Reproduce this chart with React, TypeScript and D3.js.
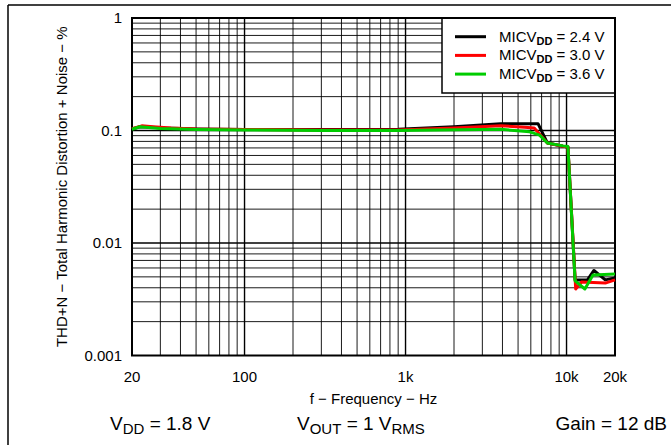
import React from "react";
import * as d3 from "d3";

const xTickValues = [20, 100, 1000, 10000, 20000];
const xTickLabels = ["20", "100", "1k", "10k", "20k"];
const yTickValues = [0.001, 0.01, 0.1, 1];
const yTickLabels = ["0.001", "0.01", "0.1", "1"];

const seriesNames = ["2.4 V", "3.0 V", "3.6 V"];
const seriesColors = ["#000000", "#ff0000", "#00cc00"];

const black24: [number, number][] = [
  [20, 0.103], [22.5, 0.108], [26, 0.107], [32, 0.105], [50, 0.103], [100, 0.102],
  [300, 0.102], [900, 0.1025], [2000, 0.108], [3900, 0.115], [5500, 0.115],
  [6650, 0.115], [7600, 0.0775], [9500, 0.0725], [10200, 0.0715],
  [11300, 0.0047], [13500, 0.0047], [14800, 0.0057], [17400, 0.0047], [20000, 0.0049],
];
const red30: [number, number][] = [
  [20, 0.104], [23, 0.11], [27, 0.108], [35, 0.105], [50, 0.103], [100, 0.102],
  [300, 0.101], [900, 0.101], [2000, 0.105], [3900, 0.11], [5500, 0.107],
  [6300, 0.105], [7600, 0.0775], [9500, 0.0725], [10200, 0.0715], [11400, 0.0039],
  [12400, 0.0045], [17400, 0.0044], [20000, 0.0047],
];
const green36: [number, number][] = [
  [20, 0.1025], [22.4, 0.108], [30, 0.104], [50, 0.102], [100, 0.101],
  [300, 0.1], [900, 0.1], [3900, 0.1025], [5900, 0.0973], [6800, 0.091],
  [7600, 0.0775], [9500, 0.073], [10200, 0.072], [11300, 0.0046], [13000, 0.0039],
  [14600, 0.0052], [20000, 0.0053],
];
const seriesData = [black24, red30, green36];

const left = 132, right = 615, top = 18, bottom = 355.5;
const font = "'Liberation Sans', Arial, sans-serif";

export default function App() {
  const x = d3.scaleLog().domain([20, 20000]).range([left, right]);
  const y = d3.scaleLog().domain([0.001, 1]).range([bottom, top]);
  const line = d3.line<[number, number]>().x((d) => x(d[0])).y((d) => y(d[1]));

  const vGrid: number[] = [];
  for (let d = 10; d <= 10000; d *= 10) {
    for (let m = 1; m <= 9; m++) {
      const v = d * m;
      if (v > 20 && v < 20000) vGrid.push(v);
    }
  }
  const hGrid: number[] = [];
  for (let d = 0.001; d < 1; d *= 10) {
    for (let m = 1; m <= 9; m++) {
      const v = d * m;
      if (v > 0.0011 && v < 0.999) hGrid.push(v);
    }
  }
  const isMajor = (v: number) => Math.abs(Math.log10(v) - Math.round(Math.log10(v))) < 1e-6;

  return (
    <svg width={671} height={445} style={{ position: "absolute", left: 0, top: 0, background: "#fff" }} fontFamily={font}>
      <rect x={0} y={0} width={671} height={445} fill="#fff" />
      {/* outer frame */}
      <line x1={8} y1={5} x2={671} y2={5} stroke="#000" strokeWidth={1.5} />
      <line x1={8} y1={5} x2={8} y2={445} stroke="#000" strokeWidth={1.5} />

      {/* grid */}
      {vGrid.map((v, i) => (
        <line key={"v" + i} x1={x(v)} x2={x(v)} y1={top} y2={bottom} stroke="#000" strokeWidth={isMajor(v) ? 1.4 : 0.9} />
      ))}
      {hGrid.map((v, i) => (
        <line key={"h" + i} x1={left} x2={right} y1={y(v)} y2={y(v)} stroke="#000" strokeWidth={isMajor(v) ? 1.4 : 0.9} />
      ))}

      {/* legend box */}
      <rect x={442} y={top} width={right - 442} height={75} fill="#fff" stroke="#000" strokeWidth={1.5} />

      {/* plot border */}
      <rect x={left} y={top} width={right - left} height={bottom - top} fill="none" stroke="#000" strokeWidth={2} />

      {/* series */}
      {seriesData.map((s, i) => (
        <path key={i} d={line(s) || ""} fill="none" stroke={seriesColors[i]} strokeWidth={3} strokeLinejoin="round" />
      ))}

      {/* legend entries */}
      {seriesNames.map((n, i) => (
        <g key={"l" + i}>
          <line x1={455} x2={486} y1={36.7 + i * 18.7} y2={36.7 + i * 18.7} stroke={seriesColors[i]} strokeWidth={3} />
          <text x={499} y={41.5 + i * 18.7} fontSize={15}>
            MICV<tspan fontSize={11} fontWeight="bold" dy={3}>DD</tspan>
            <tspan dy={-3}> = {n}</tspan>
          </text>
        </g>
      ))}

      {/* y ticks */}
      {yTickValues.map((v, i) => (
        <text key={"yt" + i} x={122} y={y(v) + 5} fontSize={15} textAnchor="end">{yTickLabels[i]}</text>
      ))}
      {/* x ticks */}
      {xTickValues.map((v, i) => (
        <text key={"xt" + i} x={x(v)} y={382} fontSize={15} textAnchor="middle">{xTickLabels[i]}</text>
      ))}

      <text x={(left + right) / 2} y={404} fontSize={15} textAnchor="middle">f − Frequency − Hz</text>
      <text transform={`translate(67,${(top + bottom) / 2}) rotate(-90)`} fontSize={15} textAnchor="middle">
        THD+N − Total Harmonic Distortion + Noise − %
      </text>

      {/* conditions */}
      <text x={110} y={430} fontSize={19}>
        V<tspan fontSize={15} dy={4}>DD</tspan><tspan dy={-4}> = 1.8 V</tspan>
      </text>
      <text x={297} y={430} fontSize={19}>
        V<tspan fontSize={15} dy={4}>OUT</tspan><tspan dy={-4}> = 1 V</tspan><tspan fontSize={15} dy={4}>RMS</tspan>
      </text>
      <text x={667} y={430} fontSize={19} textAnchor="end">Gain = 12 dB</text>
    </svg>
  );
}
